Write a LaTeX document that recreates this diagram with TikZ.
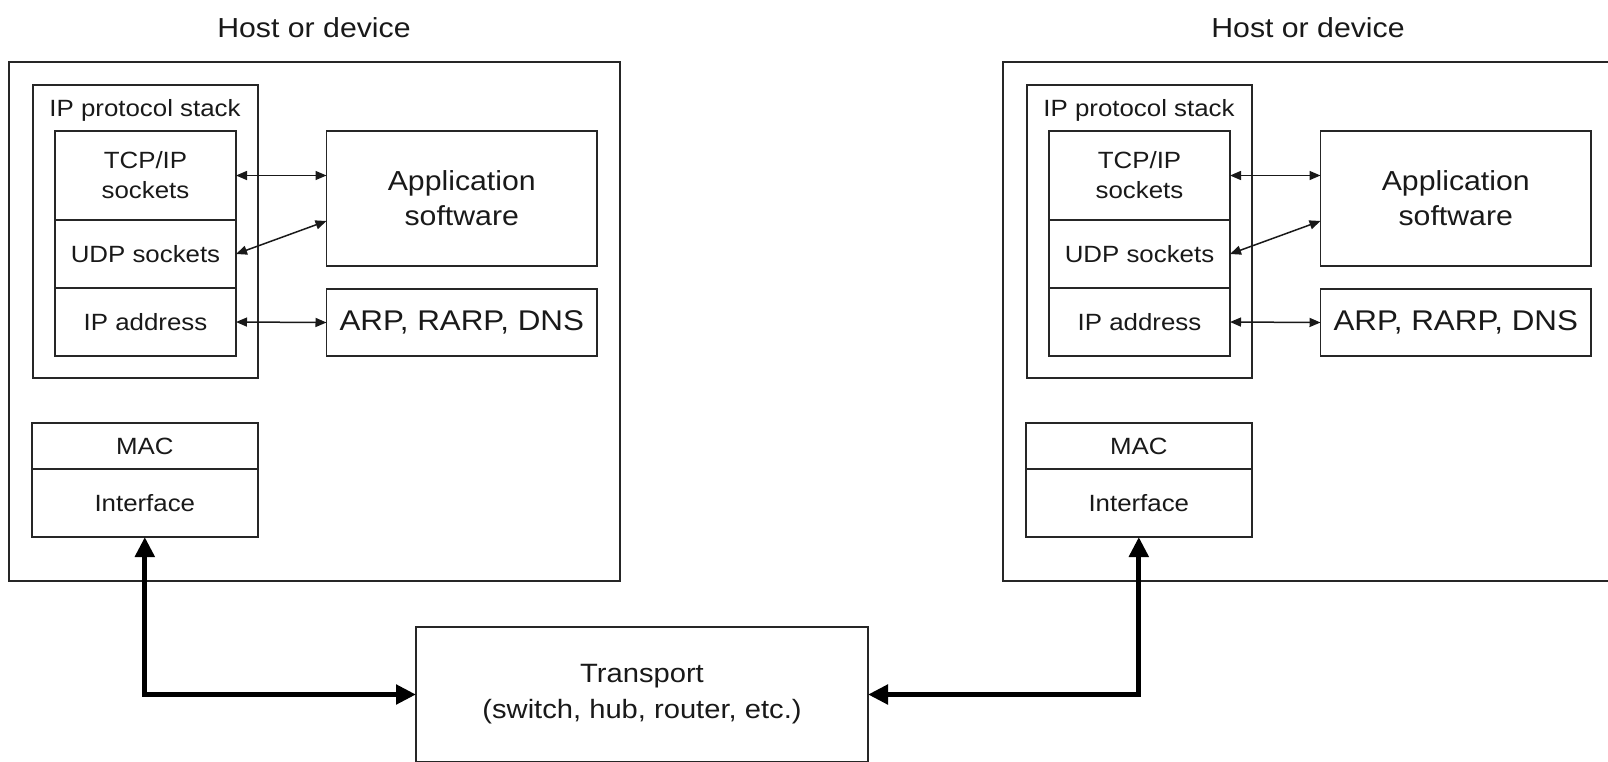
\documentclass[tikz,border=0pt]{standalone}
\usepackage{fontspec}
\setmainfont{Liberation Sans}[FakeStretch=1.1]
\usetikzlibrary{arrows.meta}
\newcommand\szS{\fontsize{23.5pt}{30pt}\selectfont}
\newcommand\szL{\fontsize{27.5pt}{35pt}\selectfont}
\newcommand\szA{\fontsize{28.5pt}{35pt}\selectfont}
\newcommand\szT{\fontsize{26.5pt}{36pt}\selectfont}
\begin{document}
\begin{tikzpicture}[x=1pt,y=-1pt,
  box/.style={draw=black!85, line width=1.8pt, inner sep=0pt, outer sep=0pt, align=center, text=black!90},
  lbl/.style={inner sep=0pt, text=black!90},
  smallarrow/.style={draw=black!90, line width=1.5pt, {Triangle[length=11pt,width=9pt]}-{Triangle[length=11pt,width=9pt]}},
  bigarrow/.style={draw=black, line width=5pt, line join=miter, {Triangle[length=20pt,width=19pt]}-{Triangle[length=20pt,width=19pt]}}]
\useasboundingbox (0,0) rectangle (1608,761);
\foreach \s/\dx in {L/0,R/994} {
  \begin{scope}[xshift=\dx pt]
    \node[lbl, font=\szL] (title\s) at (314,28) {Host or device};
    \node[box, minimum width=611pt, minimum height=519pt] (host\s) at (314.5,321.5) {};
    \node[box, minimum width=225.3pt, minimum height=293pt] (stack\s) at (145.35,231.5) {};
    \node[lbl, font=\szS] (stacklbl\s) at (145,110) {IP protocol stack};
    \node[box, font=\szS, minimum width=181pt, minimum height=89pt] (tcp\s) at (145.5,175.5) {TCP/IP\\sockets};
    \node[box, font=\szS, minimum width=181pt, minimum height=68pt] (udp\s) at (145.5,254) {UDP sockets};
    \node[box, font=\szS, minimum width=181pt, minimum height=68pt] (ipa\s) at (145.5,322) {IP address};
    \node[box, font=\szL, minimum width=270.5pt, minimum height=135pt] (app\s) at (461.75,198.5) {Application\\software};
    \node[box, font=\szA, minimum width=270.5pt, minimum height=67pt] (arp\s) at (461.75,322.5) {ARP, RARP, DNS};
    \node[box, font=\szS, minimum width=226.4pt, minimum height=46pt] (mac\s) at (144.8,446) {MAC};
    \node[box, font=\szS, minimum width=226.4pt, minimum height=68pt] (if\s) at (144.8,503) {Interface};
    \draw[smallarrow] (tcp\s.east) -- (tcp\s.east -| app\s.west);
    \draw[smallarrow] (udp\s.east) -- ([yshift=-22.5pt]app\s.west);
    \draw[smallarrow] (ipa\s.east) -- (arp\s.west);
  \end{scope}
}
\node[box, font=\szT, minimum width=452pt, minimum height=135pt] (trans) at (642,694.5) {Transport\\(switch, hub, router, etc.)};
\draw[bigarrow] (ifL.south) |- (trans.west);
\draw[bigarrow] (ifR.south) |- (trans.east);
\end{tikzpicture}
\end{document}
